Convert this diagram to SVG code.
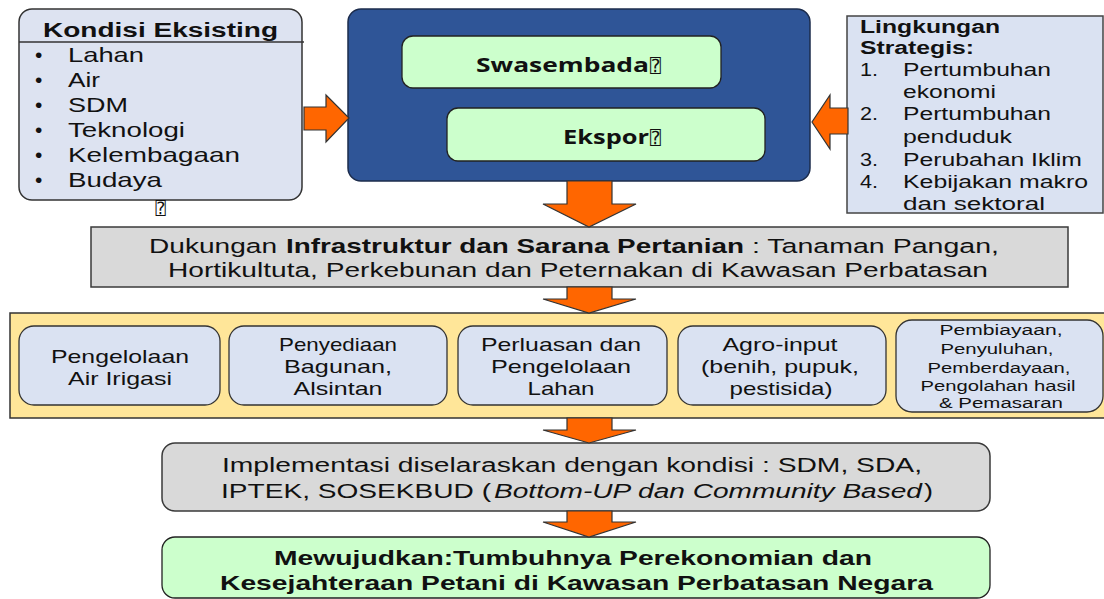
<svg xmlns="http://www.w3.org/2000/svg" width="1104" height="599" viewBox="0 0 1104 599">
  <style>
    .t { font-family: "Liberation Sans", Arial, sans-serif; fill: #111; }
    .n { font-family: "Liberation Sans Narrow", "Liberation Sans", Arial, sans-serif; fill: #111; }
    .c { font-family: "Open Sans", "Noto Sans", sans-serif; font-weight: bold; fill: #111; }
    .q { font-family: "DejaVu Sans Mono", "DejaVu Sans", sans-serif; fill: #111; }
    .b { font-weight: bold; }
    .i { font-style: italic; }
    .mid { text-anchor: middle; }
    .arrow { fill: #ff6600; stroke: #333; stroke-width: 1.2; stroke-linejoin: miter; }
    .panel { fill: #dde3f1; stroke: #333; stroke-width: 1.5; }
    .goal { fill: #ccffcc; stroke: #222; stroke-width: 1.3; }
    .gray { fill: #d9d9d9; stroke: #3a3a3a; stroke-width: 1.5; }
    .cell { fill: #dae2f2; stroke: #333; stroke-width: 1.3; }
  </style>

  <!-- Existing conditions -->
  <g id="kondisi">
    <rect class="panel" x="19" y="9" width="283" height="191" rx="13"/>
    <line x1="19" y1="42" x2="304" y2="42" stroke="#333" stroke-width="1.3"/>
    <text class="t b" x="43" y="37" font-size="19.5" textLength="235" lengthAdjust="spacingAndGlyphs">Kondisi Eksisting</text>
    <g class="t" font-size="21">
      <text x="35" y="62">•</text>
      <text x="35" y="87">•</text>
      <text x="35" y="112">•</text>
      <text x="35" y="137">•</text>
      <text x="35" y="162">•</text>
      <text x="35" y="187">•</text>
      <text x="68" y="62" textLength="76" lengthAdjust="spacingAndGlyphs">Lahan</text>
      <text x="68" y="87" textLength="32" lengthAdjust="spacingAndGlyphs">Air</text>
      <text x="68" y="112" textLength="60" lengthAdjust="spacingAndGlyphs">SDM</text>
      <text x="68" y="137" textLength="117" lengthAdjust="spacingAndGlyphs">Teknologi</text>
      <text x="68" y="162" textLength="172" lengthAdjust="spacingAndGlyphs">Kelembagaan</text>
      <text x="68" y="187" textLength="94" lengthAdjust="spacingAndGlyphs">Budaya</text>
    </g>
    <text class="q mid" x="160.5" y="214" font-size="17">⍰</text>
  </g>

  <!-- Targets -->
  <g id="sasaran">
    <rect x="348" y="9" width="462" height="172" rx="13" fill="#2f5597" stroke="#1c2c4c" stroke-width="1.5"/>
    <g id="swasembada">
      <rect class="goal" x="402" y="36" width="319" height="52" rx="11"/>
      <text class="c" x="476" y="72" font-size="20" textLength="173" lengthAdjust="spacingAndGlyphs">Swasembada</text>
      <text class="q" x="650" y="72" font-size="18">⍰</text>
    </g>
    <g id="ekspor">
      <rect class="goal" x="447" y="108" width="318" height="53" rx="11"/>
      <text class="c" x="563" y="144" font-size="20" textLength="86" lengthAdjust="spacingAndGlyphs">Ekspor</text>
      <text class="q" x="650" y="144" font-size="18">⍰</text>
    </g>
  </g>

  <!-- Strategic environment -->
  <g id="lingkungan">
    <rect x="847" y="16" width="256" height="197" fill="#dae2f2" stroke="#444" stroke-width="1.5"/>
    <g class="t" font-size="17.5">
      <text class="b" x="860" y="33" textLength="140" lengthAdjust="spacingAndGlyphs">Lingkungan</text>
      <text class="b" x="860" y="54" textLength="114" lengthAdjust="spacingAndGlyphs">Strategis:</text>
      <text x="860" y="76" textLength="18" lengthAdjust="spacingAndGlyphs">1.</text>
      <text x="903" y="76" textLength="148" lengthAdjust="spacingAndGlyphs">Pertumbuhan</text>
      <text x="903" y="98" textLength="93" lengthAdjust="spacingAndGlyphs">ekonomi</text>
      <text x="860" y="120" textLength="18" lengthAdjust="spacingAndGlyphs">2.</text>
      <text x="903" y="120" textLength="148" lengthAdjust="spacingAndGlyphs">Pertumbuhan</text>
      <text x="903" y="143" textLength="109" lengthAdjust="spacingAndGlyphs">penduduk</text>
      <text x="860" y="166" textLength="18" lengthAdjust="spacingAndGlyphs">3.</text>
      <text x="903" y="166" textLength="179" lengthAdjust="spacingAndGlyphs">Perubahan Iklim</text>
      <text x="860" y="188" textLength="18" lengthAdjust="spacingAndGlyphs">4.</text>
      <text x="903" y="188" textLength="185" lengthAdjust="spacingAndGlyphs">Kebijakan makro</text>
      <text x="903" y="210" textLength="142" lengthAdjust="spacingAndGlyphs">dan sektoral</text>
    </g>
  </g>

  <!-- Infrastructure support -->
  <g id="dukungan">
    <rect class="gray" x="91" y="227" width="977" height="60"/>
    <g class="n" font-size="20.5">
      <text x="149" y="253" textLength="128" lengthAdjust="spacingAndGlyphs">Dukungan</text>
      <text class="b" x="286" y="253" textLength="458" lengthAdjust="spacingAndGlyphs">Infrastruktur dan Sarana Pertanian</text>
      <text x="752" y="253" textLength="247" lengthAdjust="spacingAndGlyphs">: Tanaman Pangan,</text>
      <text x="168" y="277" textLength="820" lengthAdjust="spacingAndGlyphs">Hortikultuta, Perkebunan dan Peternakan di Kawasan Perbatasan</text>
    </g>
  </g>

  <!-- Programme band -->
  <g id="program">
    <rect x="10" y="313" width="1100" height="105" fill="#ffe699" stroke="#333" stroke-width="1.5"/>
    <g id="irigasi">
      <rect class="cell" x="19" y="326" width="201" height="79" rx="15"/>
      <g class="t mid" font-size="19">
        <text x="120" y="363" textLength="138" lengthAdjust="spacingAndGlyphs">Pengelolaan</text>
        <text x="120" y="385" textLength="104" lengthAdjust="spacingAndGlyphs">Air Irigasi</text>
      </g>
    </g>
    <g id="alsintan">
      <rect class="cell" x="229" y="326" width="218" height="79" rx="15"/>
      <g class="t mid" font-size="19">
        <text x="338" y="351" textLength="118" lengthAdjust="spacingAndGlyphs">Penyediaan</text>
        <text x="338" y="373" textLength="108" lengthAdjust="spacingAndGlyphs">Bagunan,</text>
        <text x="338" y="395" textLength="89" lengthAdjust="spacingAndGlyphs">Alsintan</text>
      </g>
    </g>
    <g id="lahan">
      <rect class="cell" x="458" y="326" width="209" height="79" rx="15"/>
      <g class="t mid" font-size="19">
        <text x="561" y="351" textLength="160" lengthAdjust="spacingAndGlyphs">Perluasan dan</text>
        <text x="561" y="373" textLength="140" lengthAdjust="spacingAndGlyphs">Pengelolaan</text>
        <text x="561" y="395" textLength="67" lengthAdjust="spacingAndGlyphs">Lahan</text>
      </g>
    </g>
    <g id="agroinput">
      <rect class="cell" x="678" y="326" width="208" height="79" rx="15"/>
      <g class="t mid" font-size="19">
        <text x="780" y="351" textLength="115" lengthAdjust="spacingAndGlyphs">Agro-input</text>
        <text x="780" y="373" textLength="158" lengthAdjust="spacingAndGlyphs">(benih, pupuk,</text>
        <text x="781" y="395" textLength="103" lengthAdjust="spacingAndGlyphs">pestisida)</text>
      </g>
    </g>
    <g id="pembiayaan">
      <rect class="cell" x="896" y="320" width="207" height="92" rx="16"/>
      <g class="t mid" font-size="14">
        <text x="1001" y="335" textLength="123" lengthAdjust="spacingAndGlyphs">Pembiayaan,</text>
        <text x="997" y="354" textLength="113" lengthAdjust="spacingAndGlyphs">Penyuluhan,</text>
        <text x="999" y="373" textLength="143" lengthAdjust="spacingAndGlyphs">Pemberdayaan,</text>
        <text x="998" y="391" textLength="155" lengthAdjust="spacingAndGlyphs">Pengolahan hasil</text>
        <text x="1001" y="408" textLength="124" lengthAdjust="spacingAndGlyphs">&amp; Pemasaran</text>
      </g>
    </g>
  </g>

  <!-- Implementation -->
  <g id="implementasi">
    <rect class="gray" x="162" y="443" width="828" height="68" rx="13"/>
    <g class="n" font-size="20">
      <text x="222" y="472" textLength="700" lengthAdjust="spacingAndGlyphs">Implementasi diselaraskan dengan kondisi : SDM, SDA,</text>
      <text x="221" y="498" textLength="270" lengthAdjust="spacingAndGlyphs">IPTEK, SOSEKBUD (</text>
      <text class="i" x="494" y="498" textLength="428" lengthAdjust="spacingAndGlyphs">Bottom-UP dan Community Based</text>
      <text x="924" y="498" textLength="9" lengthAdjust="spacingAndGlyphs">)</text>
    </g>
  </g>

  <!-- Expected outcome -->
  <g id="hasil">
    <rect class="goal" x="162" y="537" width="828" height="61" rx="13"/>
    <g class="n b" font-size="20.5">
      <text x="274" y="565" textLength="598" lengthAdjust="spacingAndGlyphs">Mewujudkan:Tumbuhnya Perekonomian dan</text>
      <text x="220" y="590" textLength="713" lengthAdjust="spacingAndGlyphs">Kesejahteraan Petani di Kawasan Perbatasan Negara</text>
    </g>
  </g>

  <!-- Block arrows -->
  <g id="connectors">
    <polygon class="arrow" points="304,107 326,107 326,95 349,118 326,142 326,130 304,130"/>
    <polygon class="arrow" points="848,108 830,108 830,95 812,122 830,149 830,134 848,134"/>
    <polygon class="arrow" points="567,181 612,181 612,204 636,204 589,227 543,204 567,204"/>
    <polygon class="arrow" points="567,287 612,287 612,299 636,299 589,313 543,299 567,299"/>
    <polygon class="arrow" points="567,418 612,418 612,430 636,430 589,443 543,430 567,430"/>
    <polygon class="arrow" points="567,511 612,511 612,522 636,522 589,537 543,522 567,522"/>
  </g>
</svg>
